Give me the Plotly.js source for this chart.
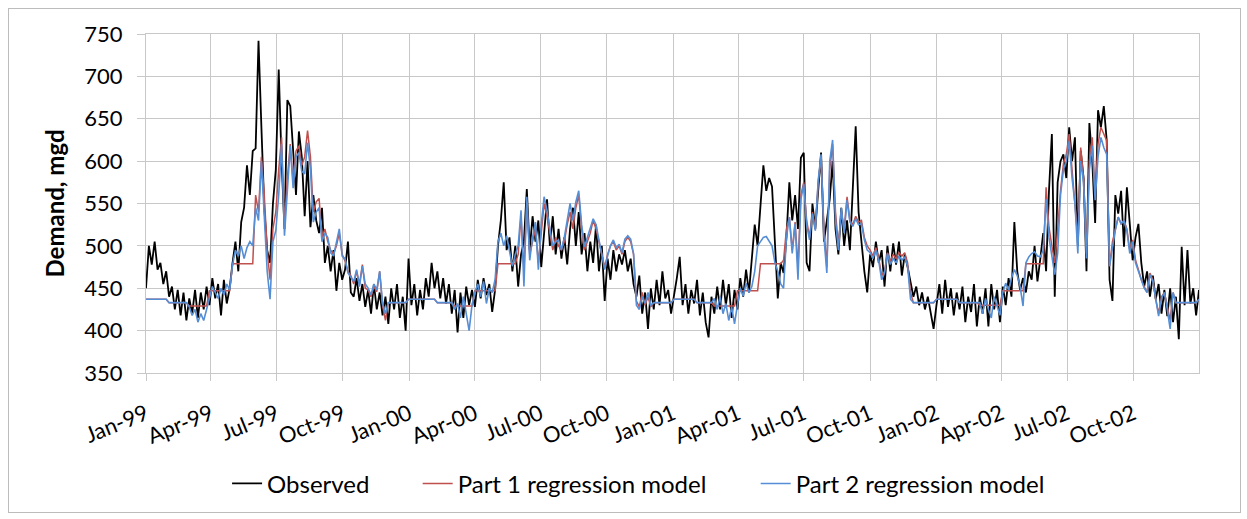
<!DOCTYPE html>
<html><head><meta charset="utf-8">
<script src="https://cdn.plot.ly/plotly-3.0.1.min.js"></script>
<style>
html,body{margin:0;padding:0;background:#fff;}
#chart{width:1247px;height:519px;position:absolute;left:0;top:0;}
#frame{position:absolute;left:8px;top:8px;width:1231px;height:503px;border:1px solid #bcbcbc;pointer-events:none;}
</style></head>
<body><div id="chart"></div><div id="frame"></div>
<script>
// Sampling: one value every 4 days starting 1 Jan 1999
const startYear = 1999;
const stepDays = 4;

// Observed demand (mgd)
const obs1999 = [450,500,478,505,472,480,455,470,440,452,
425,448,418,445,412,438,420,448,415,445,
425,452,430,462,438,455,418,460,432,450,
480,505,470,528,545,595,560,612,615,742,
640,545,495,480,550,590,708,600,520,672,
665,605,560,635,605,535,600,522,560,530,
515,545,480,500,470,495,447,480,460,472,
505,445,440,462,435,455,428,448,420,455,
425,445,418,440,408,450,425,455,415,440,
400];
const obs2000 = [485,430,455,418,448,425,462,440,480,450,
470,438,462,432,455,420,448,398,445,415,
452,430,448,428,460,438,462,442,455,422,
448,500,530,575,495,510,470,500,452,490,
505,567,495,535,505,530,475,520,555,500,
535,490,520,485,510,478,520,545,500,540,
490,515,470,505,480,525,470,500,435,485,
460,495,470,490,478,495,470,485,455,440,
465,420,445,402,450,425,460,430,470,438,
448,420];
const obs2001 = [440,462,487,430,455,420,448,432,460,418,
445,410,392,440,420,452,425,460,430,455,
415,448,425,462,440,472,445,490,525,500,
545,595,565,580,570,495,438,480,468,510,
575,530,560,520,604,610,480,470,550,520,
560,610,505,530,555,600,520,490,545,500,
530,495,560,641,540,505,470,445,490,475,
505,480,495,452,500,470,503,478,505,465,
490,475,455,440,452,430,445,425,440,420,
402];
const obs2002 = [430,455,420,460,428,450,418,445,425,452,
410,440,422,455,405,440,420,450,405,455,
425,448,410,452,430,462,440,528,470,448,
462,445,470,460,500,458,485,515,470,565,
632,440,575,600,608,580,640,600,628,500,
612,580,470,645,600,527,660,640,665,625,
460,435,560,538,565,499,569,530,483,510,
526,480,452,470,440,465,437,455,420,448,
417,450,410,440,390,499,430,495,432,450,
418,448];

// Part 1 regression model
const p1_1999 = [437,437,437,437,437,437,437,437,
433,433,433,433,433,433,433,
429,429,429,429,429,429,429,
447,447,447,447,447,447,447,447,
479,479,479,479,479,479,479,479,
560,540,605,560,495,460,520,
540,590,628,525,580,620,575,612,618,595,
605,636,605,540,552,556,510,520,505,495,
490,500,515,490,482,470,465,455,470,455,
478,450,448,440,452,446,470,430,412,433,
433,433,433,433,433,433];
const p1_2000 = [437,437,437,437,437,437,437,437,437,437,
433,433,433,433,433,433,
429,429,429,429,429,429,429,
447,447,447,447,447,447,447,447,
479,479,479,479,479,479,479,
490,535,470,552,490,505,520,480,520,550,
535,515,495,510,500,495,505,525,540,520,
545,560,520,495,505,515,530,520,505,490,
475,490,500,505,495,500,490,505,510,505,
490,435,428,445,430,440,428,
433,433,433,433,433,433,433];
const p1_2001 = [437,437,437,437,437,437,437,437,
433,433,433,433,433,433,
429,429,429,429,429,429,429,429,
447,447,447,447,447,447,447,447,
479,479,479,479,479,479,479,479,
483,
520,534,495,528,475,560,575,530,510,540,
520,575,605,520,475,590,620,540,500,540,
520,558,530,525,535,528,530,510,500,495,
488,498,485,465,470,492,482,490,485,492,
488,492,480,445,
433,433,433,433,433,433,433,433];
const p1_2002 = [437,437,437,437,437,437,437,437,
433,433,433,433,433,433,433,
430,430,430,430,430,430,430,430,
447,447,447,447,447,447,447,447,
479,479,479,479,479,479,479,
569,522,500,480,519,565,597,608,632,590,
554,507,616,580,491,600,628,561,620,640,
632,624,476,505,519,534,526,530,520,495,
507,483,472,460,452,445,468,460,437,420,
440,445,429,412,445,
433,433,433,433,433,433,433,433,
437];

// Part 2 regression model
const p2_1999 = [437,437,437,437,437,437,437,437,
433,433,433,433,433,433,433,
428,418,425,410,420,412,425,
440,452,445,438,450,442,455,448,
478,495,488,500,485,498,505,500,
545,530,600,540,470,437,505,
518,560,620,512,565,618,568,605,610,588,
585,622,590,528,540,545,505,515,510,492,
488,505,520,488,485,468,463,458,472,452,
476,455,450,442,455,448,470,432,420,433,
433,433,433,433,433,433];
const p2_2000 = [437,437,437,437,437,437,437,437,437,437,
433,433,433,433,433,433,
425,432,415,440,420,400,430,
445,455,440,458,432,450,445,460,
505,515,500,512,495,476,490,
500,542,452,558,483,510,528,472,525,558,
542,520,500,505,507,495,510,530,550,530,
552,565,525,499,510,520,532,525,507,491,
472,488,500,507,498,502,492,508,512,508,
491,430,425,440,432,445,430,
433,433,433,433,433,433,433];
const p2_2001 = [437,437,437,437,437,437,437,437,
433,433,433,433,433,433,
438,425,440,420,432,412,428,408,
430,450,441,456,445,452,470,500,
505,510,511,505,500,480,470,455,
450,
510,534,491,526,460,555,573,525,507,538,
518,577,608,510,468,600,625,530,495,545,
515,554,528,523,532,525,526,507,495,492,
485,495,482,460,468,491,478,485,480,488,
483,487,476,437,
433,433,433,433,433,433,433,433];
const p2_2002 = [437,437,437,437,437,437,437,437,
433,433,433,433,433,433,433,
433,420,438,425,415,440,428,418,
445,456,448,462,472,465,452,429,
480,487,491,493,488,487,495,
555,510,485,466,491,560,590,600,624,580,
550,491,600,575,485,590,618,554,605,628,
616,608,476,500,519,534,526,530,518,491,
505,480,470,458,450,445,466,458,435,417,
438,445,425,402,445,
433,433,433,433,433,433,433,433,
437];

const seriesNames = ['Observed','Part 1 regression model','Part 2 regression model'];
const seriesColors = ['#000000','#C0504D','#558ED5'];

const observed = [].concat(obs1999, obs2000, obs2001, obs2002);
const part1 = [].concat(p1_1999, p1_2000, p1_2001, p1_2002);
const part2 = [].concat(p2_1999, p2_2000, p2_2001, p2_2002);

function sampleDates(n){
  const out = [];
  const t0 = Date.UTC(startYear,0,1);
  for (let k=0;k<n;k++){
    out.push(new Date(t0 + k*stepDays*86400000).toISOString().slice(0,10));
  }
  return out;
}

const traces = [
  {x: sampleDates(observed.length), y: observed, name: seriesNames[0], type:'scatter', mode:'lines',
   line:{color:seriesColors[0], width:1.8}, legend:'legend'},
  {x: sampleDates(part1.length), y: part1, name: seriesNames[1], type:'scatter', mode:'lines',
   line:{color:seriesColors[1], width:1.5}, legend:'legend2'},
  {x: sampleDates(part2.length), y: part2, name: seriesNames[2], type:'scatter', mode:'lines',
   line:{color:seriesColors[2], width:1.6}, legend:'legend3'}
];

const grid = '#c8c8c8';
function legendAt(xp){
  return {orientation:'h', x:xp, xanchor:'left', y:-0.327, yanchor:'middle',
          font:{size:24}, bgcolor:'rgba(0,0,0,0)', borderwidth:0};
}
const layout = {
  width:1247, height:519,
  margin:{l:146, r:48, t:34, b:143, pad:0},
  paper_bgcolor:'#ffffff', plot_bgcolor:'#ffffff',
  font:{family:'Lato, "Open Sans", sans-serif', size:21, color:'#000'},
  showlegend:true,
  legend: legendAt(0.077),
  legend2: legendAt(0.258),
  legend3: legendAt(0.579),
  xaxis:{type:'date', range:['1999-01-01','2002-12-31'], tick0:'1999-01-01', dtick:'M3',
         tickformat:'%b-%y', tickangle:-22, showgrid:true, gridcolor:grid, gridwidth:1,
         ticks:'outside', ticklen:7, tickcolor:grid, tickwidth:1, ticklabelstandoff:12,
         showline:true, mirror:true, linecolor:grid, linewidth:1, zeroline:false,
         tickfont:{size:22}},
  yaxis:{range:[350,750], tick0:350, dtick:50, showgrid:true, gridcolor:grid, gridwidth:1,
         ticks:'outside', ticklen:8, tickcolor:grid, tickwidth:1, ticklabelstandoff:10,
         showline:true, mirror:true, linecolor:grid, linewidth:1, zeroline:false,
         tickfont:{size:22},
         title:{text:'Demand, mgd', font:{size:24, weight:'bold'}, standoff:12}}
};

Plotly.newPlot('chart', traces, layout, {staticPlot:true, displayModeBar:false});
</script>
</body></html>
